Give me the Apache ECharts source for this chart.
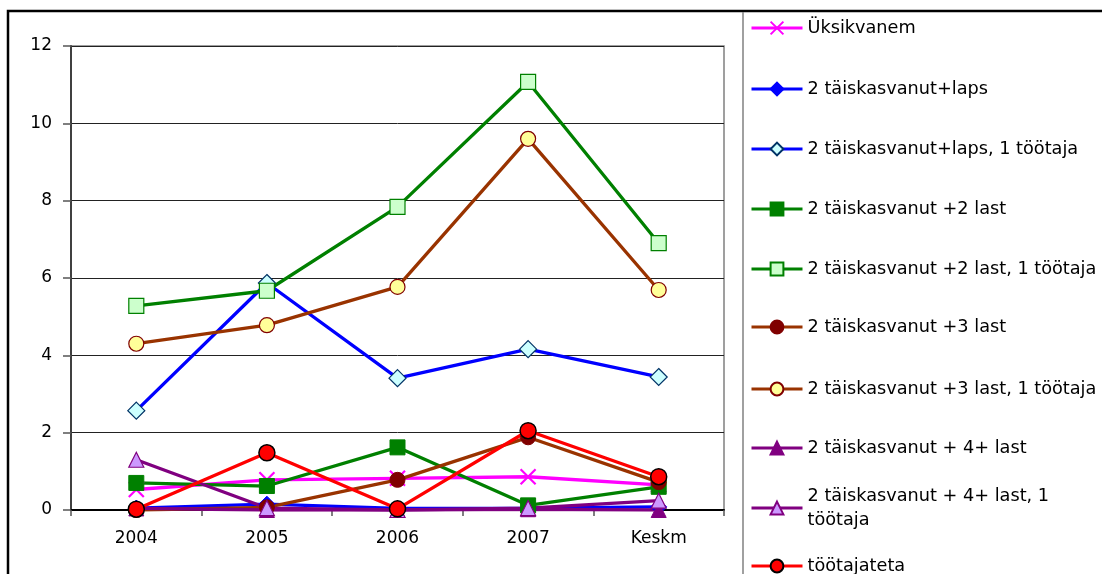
<!DOCTYPE html>
<html>
<head>
<meta charset="utf-8">
<script src="https://cdn.jsdelivr.net/npm/echarts@6/dist/echarts.min.js"></script>
<style>
html,body{margin:0;padding:0;background:#fff;}
#chart{width:1102px;height:574px;}
</style>
</head>
<body>
<div id="chart"></div>
<script>
const categories = ['2004', '2005', '2006', '2007', 'Keskm'];
const yTicks = [0, 2, 4, 6, 8, 10, 12];

const seriesNames = [
  'Üksikvanem',
  '2 täiskasvanut+laps',
  '2 täiskasvanut+laps, 1 töötaja',
  '2 täiskasvanut +2 last',
  '2 täiskasvanut +2 last, 1 töötaja',
  '2 täiskasvanut +3 last',
  '2 täiskasvanut +3 last, 1 töötaja',
  '2 täiskasvanut + 4+ last',
  '2 täiskasvanut + 4+ last, 1 töötaja',
  'töötajateta'
];

const uksikvanem = [0.53, 0.78, 0.82, 0.86, 0.65];
const laps = [0.05, 0.15, 0.04, 0.05, 0.08];
const laps1 = [2.57, 5.87, 3.41, 4.16, 3.44];
const last2 = [0.7, 0.62, 1.62, 0.12, 0.6];
const last2_1 = [5.28, 5.67, 7.84, 11.07, 6.9];
const last3 = [0.0, 0.07, 0.78, 1.88, 0.72];
const last3_1 = [4.3, 4.78, 5.77, 9.6, 5.69];
const last4 = [0.04, 0.0, 0.0, 0.02, 0.0];
const last4_1 = [1.3, 0.05, 0.0, 0.05, 0.24];
const tootajateta = [0.02, 1.48, 0.03, 2.05, 0.86];

const CROSS = 'path://M0,0L10,10M10,0L0,10';

function mk(name, data, lineColor, symbol, size, fill, border, bw) {
  return {
    name: name, type: 'line', data: data,
    symbol: symbol, symbolSize: size, showAllSymbol: true,
    lineStyle: { color: lineColor, width: 3.3 },
    itemStyle: { color: fill, borderColor: border, borderWidth: bw },
    emphasis: { disabled: true }
  };
}

const series = [
  mk(seriesNames[0], uksikvanem, '#FF00FF', CROSS, 15, '#FF00FF', '#FF00FF', 2.2),
  mk(seriesNames[1], laps, '#0000FF', 'diamond', 16, '#0000FF', '#0000FF', 1),
  mk(seriesNames[2], laps1, '#0000FF', 'diamond', 17, '#CCFFFF', '#003366', 1.2),
  mk(seriesNames[3], last2, '#008000', 'rect', 15, '#008000', '#008000', 1),
  mk(seriesNames[4], last2_1, '#008000', 'rect', 15, '#CCFFCC', '#008000', 1.2),
  mk(seriesNames[5], last3, '#993300', 'circle', 15, '#800000', '#800000', 1),
  mk(seriesNames[6], last3_1, '#993300', 'circle', 15, '#FFFF99', '#800000', 1.2),
  mk(seriesNames[7], last4, '#800080', 'triangle', 15, '#800080', '#800080', 1),
  mk(seriesNames[8], last4_1, '#800080', 'triangle', 15, '#CC99FF', '#800080', 1.2),
  mk(seriesNames[9], tootajateta, '#FF0000', 'circle', 16, '#FF0000', '#000000', 1.5)
];

const legendCenters = [28, 89, 149, 209, 269, 327, 389, 448, 508, 566];
const FONT = 'DejaVu Sans';
const legends = seriesNames.map(function (n, i) {
  const wrapped = (i === 8);
  return {
    data: [n],
    orient: 'vertical',
    left: 750,
    top: wrapped ? legendCenters[i] - 36 : legendCenters[i] - 12,
    padding: 0,
    itemWidth: 51,
    itemHeight: 16,
    selectedMode: false,
    lineStyle: { width: 3 },
    formatter: wrapped ? function (name) { return '2 täiskasvanut + 4+ last, 1\ntöötaja'; } : '{name}',
    textStyle: wrapped
      ? { fontFamily: FONT, fontSize: 17.7, color: '#000', lineHeight: 24, padding: [24, 0, 0, 0] }
      : { fontFamily: FONT, fontSize: 17.7, color: '#000', lineHeight: 24 }
  };
});

const option = {
  animation: false,
  backgroundColor: '#fff',
  grid: {
    left: 71, right: 1102 - 724, top: 46, bottom: 574 - 510,
    show: true, borderColor: '#808080', borderWidth: 1.5, backgroundColor: 'transparent'
  },
  xAxis: {
    type: 'category', data: categories, boundaryGap: true,
    axisLine: { lineStyle: { color: '#000', width: 2 } },
    axisTick: { show: true, length: 6, alignWithLabel: false, lineStyle: { color: '#555', width: 1.5 } },
    axisLabel: { fontFamily: FONT, fontSize: 17, color: '#000', margin: 20 },
    splitLine: { show: false }
  },
  yAxis: {
    type: 'value', min: yTicks[0], max: yTicks[yTicks.length - 1], interval: 2,
    axisLine: { show: true, lineStyle: { color: '#404040', width: 2 } },
    axisTick: { show: true, length: 8, lineStyle: { color: '#555', width: 1.5 } },
    axisLabel: { fontFamily: FONT, fontSize: 17, color: '#000', margin: 19 },
    splitLine: { show: true, lineStyle: { color: '#222', width: 1 } }
  },
  legend: legends,
  graphic: [
    { type: 'rect', shape: { x: 8, y: 11, width: 1300, height: 800 }, style: { fill: 'none', stroke: '#000', lineWidth: 2.5 }, silent: true, z: 100 },
    { type: 'line', shape: { x1: 743, y1: 12, x2: 743, y2: 600 }, style: { stroke: '#808080', lineWidth: 1.5 }, silent: true, z: 100 }
  ],
  series: series
};

const chart = echarts.init(document.getElementById('chart'), null, { renderer: 'canvas' });
chart.setOption(option);
</script>
</body>
</html>
